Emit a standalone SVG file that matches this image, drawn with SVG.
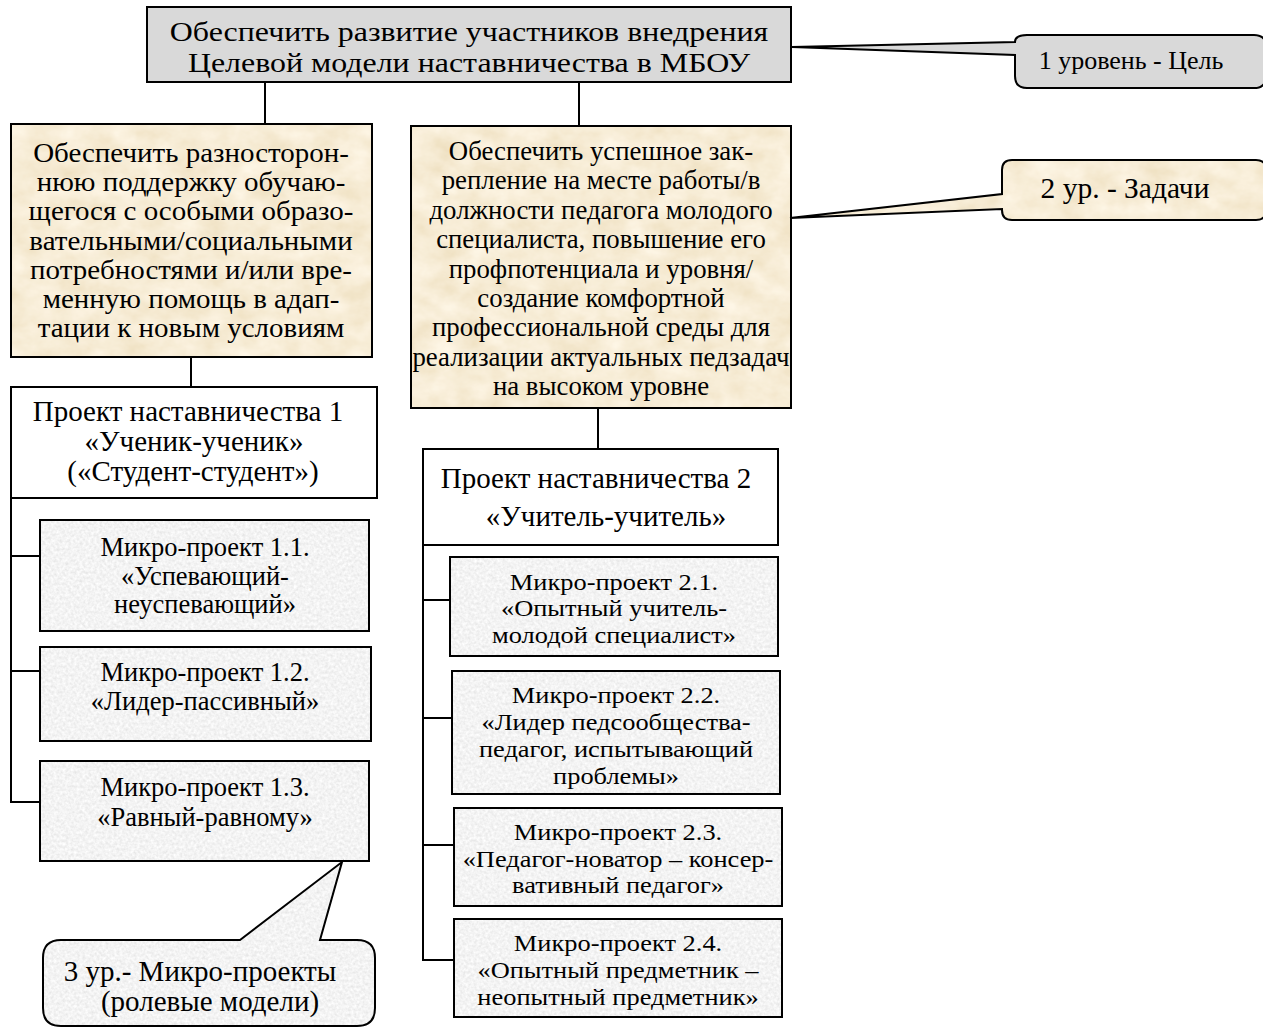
<svg xmlns="http://www.w3.org/2000/svg" width="1263" height="1028" viewBox="0 0 1263 1028">
<defs>
<filter id="granite" x="0" y="0" width="100%" height="100%">
<feTurbulence type="fractalNoise" baseFrequency="0.35" numOctaves="2" seed="7" result="n"/>
<feColorMatrix in="n" type="matrix" values="0.3 0 0 0 0.75  0.3 0 0 0 0.75  0.3 0 0 0 0.75  0 0 0 0 1" result="c"/>
<feComposite in="c" in2="SourceGraphic" operator="in"/>
</filter>
<filter id="parch" x="0" y="0" width="100%" height="100%">
<feTurbulence type="fractalNoise" baseFrequency="0.035 0.05" numOctaves="4" seed="3" result="n"/>
<feColorMatrix in="n" type="matrix" values="0.16 0 0 0 0.85  0.22 0 0 0 0.73  0.32 0 0 0 0.51  0 0 0 0 1" result="c"/>
<feComposite in="c" in2="SourceGraphic" operator="in"/>
</filter>
</defs>
<style>
.t{font-family:"Liberation Serif","Times New Roman",serif;fill:#000;text-anchor:middle}
.b{fill:none;stroke:#000;stroke-width:2}
.c{stroke:#000;stroke-width:2;fill:none}
.g{fill:#fff;filter:url(#granite)}
.p{fill:#fff;filter:url(#parch)}
.m{font-size:26.5px}
.n{font-size:24px}
</style>
<rect width="1263" height="1028" fill="#fff"/>

<g id="connectors">
<line class="c" x1="265" y1="82" x2="265" y2="124"/>
<line class="c" x1="579" y1="82" x2="579" y2="126"/>
<line class="c" x1="191" y1="357" x2="191" y2="387"/>
<line class="c" x1="598" y1="408" x2="598" y2="449"/>
<polyline class="c" points="11,498 11,802 40,802"/>
<line class="c" x1="11" y1="556" x2="40" y2="556"/>
<line class="c" x1="11" y1="671" x2="40" y2="671"/>
<polyline class="c" points="423,545 423,960 454,960"/>
<line class="c" x1="423" y1="600" x2="450" y2="600"/>
<line class="c" x1="423" y1="718" x2="452" y2="718"/>
<line class="c" x1="423" y1="845" x2="454" y2="845"/>
</g>

<g id="goal">
<rect x="147" y="7" width="644" height="75" fill="#d9d9d9" stroke="#000" stroke-width="2"/>
<g transform="translate(469,0) scale(1.14,1)">
<text class="t" x="0" y="41" font-size="28">Обеспечить развитие участников внедрения</text>
<text class="t" x="0" y="72" font-size="28">Целевой модели наставничества в МБОУ</text>
</g>
</g>

<g id="callout1">
<path d="M1027,35 H1254 Q1266,35 1266,47 V76 Q1266,88 1254,88 H1027 Q1015,88 1015,76 V55 L792,47 L1015,42 Q1015,35 1027,35 Z" fill="#d9d9d9" stroke="#000" stroke-width="2"/>
<text class="t" x="1131" y="69" font-size="26">1 уровень - Цель</text>
</g>

<g id="task1">
<rect class="p" x="11" y="124" width="361" height="233"/>
<rect class="b" x="11" y="124" width="361" height="233"/>
<g transform="translate(191,0) scale(1.05,1)" font-size="27.6">
<text class="t" x="0" y="162">Обеспечить разносторон-</text>
<text class="t" x="0" y="191">нюю поддержку обучаю-</text>
<text class="t" x="0" y="220">щегося с особыми образо-</text>
<text class="t" x="0" y="250">вательными/социальными</text>
<text class="t" x="0" y="279">потребностями и/или вре-</text>
<text class="t" x="0" y="308">менную помощь в адап-</text>
<text class="t" x="0" y="337">тации к новым условиям</text>
</g>
</g>

<g id="task2">
<rect class="p" x="411" y="126" width="380" height="282"/>
<rect class="b" x="411" y="126" width="380" height="282"/>
<g font-size="26.8">
<text class="t" x="601" y="160">Обеспечить успешное зак-</text>
<text class="t" x="601" y="189">репление на месте работы/в</text>
<text class="t" x="601" y="219">должности педагога молодого</text>
<text class="t" x="601" y="248">специалиста, повышение его</text>
<text class="t" x="601" y="278">профпотенциала и уровня/</text>
<text class="t" x="601" y="307">создание комфортной</text>
<text class="t" x="601" y="336">профессиональной среды для</text>
<text class="t" x="601" y="366">реализации актуальных педзадач</text>
<text class="t" x="601" y="395">на высоком уровне</text>
</g>
</g>

<g id="callout2">
<path class="p" d="M1012,160 H1256 Q1266,160 1266,170 V210 Q1266,220 1256,220 H1012 Q1002,220 1002,210 V209 L790,218 L1002,194 V170 Q1002,160 1012,160 Z"/>
<path d="M1012,160 H1256 Q1266,160 1266,170 V210 Q1266,220 1256,220 H1012 Q1002,220 1002,210 V209 L790,218 L1002,194 V170 Q1002,160 1012,160 Z" class="b"/>
<text class="t" x="1125" y="198" font-size="29.5">2 ур. - Задачи</text>
</g>

<g id="project1">
<rect x="11" y="387" width="366" height="111" fill="#fff" stroke="#000" stroke-width="2"/>
<text class="t" x="188" y="421" font-size="29">Проект наставничества 1</text>
<text class="t" x="194" y="451" font-size="29">«Ученик-ученик»</text>
<text class="t" x="193" y="481" font-size="29">(«Студент-студент»)</text>
</g>

<g id="micro11">
<rect class="g" x="40" y="520" width="329" height="111"/>
<rect class="b" x="40" y="520" width="329" height="111"/>
<text class="t m" x="205" y="556">Микро-проект 1.1.</text>
<text class="t m" x="205" y="585">«Успевающий-</text>
<text class="t m" x="205" y="613">неуспевающий»</text>
</g>

<g id="micro12">
<rect class="g" x="40" y="647" width="331" height="94"/>
<rect class="b" x="40" y="647" width="331" height="94"/>
<text class="t m" x="205" y="681">Микро-проект 1.2.</text>
<text class="t m" x="205" y="710">«Лидер-пассивный»</text>
</g>

<g id="micro13">
<rect class="g" x="40" y="761" width="329" height="100"/>
<rect class="b" x="40" y="761" width="329" height="100"/>
<text class="t m" x="205" y="796">Микро-проект 1.3.</text>
<text class="t m" x="205" y="826">«Равный-равному»</text>
</g>

<g id="callout3">
<path class="g" d="M61,940 H240 L342,862 L320,940 H357 Q375,940 375,958 V1008 Q375,1026 357,1026 H61 Q43,1026 43,1008 V958 Q43,940 61,940 Z"/>
<path class="b" d="M61,940 H240 L342,862 L320,940 H357 Q375,940 375,958 V1008 Q375,1026 357,1026 H61 Q43,1026 43,1008 V958 Q43,940 61,940 Z"/>
<text class="t" x="200" y="981" font-size="29">3 ур.- Микро-проекты</text>
<text class="t" x="210" y="1011" font-size="29">(ролевые модели)</text>
</g>

<g id="project2">
<rect x="423" y="449" width="355" height="96" fill="#fff" stroke="#000" stroke-width="2"/>
<text class="t" x="596" y="488" font-size="29">Проект наставничества 2</text>
<text class="t" x="606" y="526" font-size="29">«Учитель-учитель»</text>
</g>

<g id="micro21">
<rect class="g" x="450" y="557" width="328" height="99"/>
<rect class="b" x="450" y="557" width="328" height="99"/>
<g transform="translate(614,0) scale(1.1,1)">
<text class="t n" x="0" y="590">Микро-проект 2.1.</text>
<text class="t n" x="0" y="616">«Опытный учитель-</text>
<text class="t n" x="0" y="643">молодой специалист»</text>
</g>
</g>

<g id="micro22">
<rect class="g" x="452" y="671" width="328" height="123"/>
<rect class="b" x="452" y="671" width="328" height="123"/>
<g transform="translate(616,0) scale(1.1,1)">
<text class="t n" x="0" y="703">Микро-проект 2.2.</text>
<text class="t n" x="0" y="730">«Лидер педсообщества-</text>
<text class="t n" x="0" y="757">педагог, испытывающий</text>
<text class="t n" x="0" y="784">проблемы»</text>
</g>
</g>

<g id="micro23">
<rect class="g" x="454" y="808" width="328" height="98"/>
<rect class="b" x="454" y="808" width="328" height="98"/>
<g transform="translate(618,0) scale(1.1,1)">
<text class="t n" x="0" y="840">Микро-проект 2.3.</text>
<text class="t n" x="0" y="867">«Педагог-новатор – консер-</text>
<text class="t n" x="0" y="893">вативный педагог»</text>
</g>
</g>

<g id="micro24">
<rect class="g" x="454" y="919" width="328" height="98"/>
<rect class="b" x="454" y="919" width="328" height="98"/>
<g transform="translate(618,0) scale(1.1,1)">
<text class="t n" x="0" y="951">Микро-проект 2.4.</text>
<text class="t n" x="0" y="978">«Опытный предметник –</text>
<text class="t n" x="0" y="1005">неопытный предметник»</text>
</g>
</g>
</svg>
